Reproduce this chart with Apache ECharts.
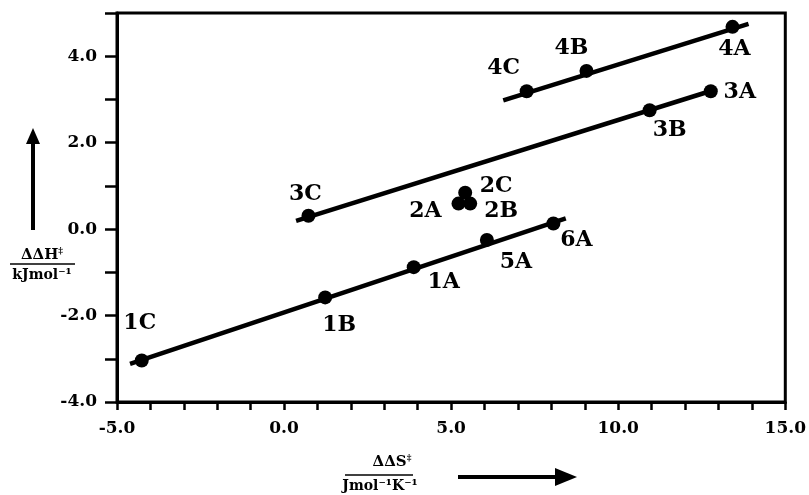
<!DOCTYPE html>
<html>
<head>
<meta charset="utf-8">
<script src="https://cdn.jsdelivr.net/npm/echarts@6/dist/echarts.min.js"></script>
<style>html,body{margin:0;padding:0;background:#fff;}#c{width:809px;height:495px;}</style>
</head>
<body>
<div id="c"></div>
<script>
// Data points: name, ΔΔS (x), ΔΔH (y)
const pointNames = ['1C','1B','1A','5A','6A','2A','2B','2C','3C','3B','3A','4C','4B','4A'];
const pointX     = [-4.26, 1.23, 3.88, 6.07, 8.06, 5.22, 5.57, 5.42, 0.73, 10.94, 12.77, 7.26, 9.05, 13.42];
const pointY     = [-3.04, -1.58, -0.88, -0.25, 0.13, 0.59, 0.59, 0.84, 0.31, 2.75, 3.19, 3.19, 3.66, 4.68];

// Fitted lines (endpoints)
const line1X = [-4.61, 8.43];  const line1Y = [-3.12, 0.25];
const line3X = [0.36, 12.91];  const line3Y = [0.19, 3.23];
const line4X = [6.56, 13.9];   const line4Y = [2.98, 4.75];

// Axis tick labels
const xTickLabels = ['-5.0','0.0','5.0','10.0','15.0'];
const yTickLabels = ['-4.0','-2.0','0.0','2.0','4.0'];

// label placement (style)
const labelOffsets = {
  '1C':[-2,-37],'1B':[14,28],'1A':[30,15],'5A':[29,22],'6A':[23,17],
  '2A':[-33,8],'2B':[31,8],'2C':[31,-7],'3C':[-3,-21],'3B':[20,20],
  '3A':[29,1],'4C':[-23,-23],'4B':[-15,-23],'4A':[2,22]
};

const FONT = 'DejaVu Serif';
const pts = pointNames.map((n,i)=>({
  name:n, value:[pointX[i], pointY[i]],
  label:{offset: labelOffsets[n]}
}));
const mk = (xs,ys)=>xs.map((x,i)=>[x,ys[i]]);

const chart = echarts.init(document.getElementById('c'), null, {renderer:'canvas'});
chart.setOption({
  animation:false,
  backgroundColor:'#fff',
  grid:{left:117,right:21,top:13,bottom:93,show:true,borderColor:'#000',borderWidth:3,backgroundColor:'transparent'},
  xAxis:{
    type:'value', min:-5, max:15, interval:1,
    axisLine:{show:true,onZero:false,lineStyle:{color:'#000',width:3}},
    axisTick:{show:true,length:8,lineStyle:{color:'#000',width:2.5}},
    splitLine:{show:false},
    axisLabel:{
      margin:18, color:'#000', fontFamily:FONT, fontWeight:'bold', fontSize:17,
      formatter:v=>{const i=xTickLabels.indexOf(v.toFixed(1)); return (Math.round(v)%5===0 && i>=0)?xTickLabels[i]:'';}
    }
  },
  yAxis:{
    type:'value', min:-4, max:5, interval:1,
    axisLine:{show:true,onZero:false,lineStyle:{color:'#000',width:3}},
    axisTick:{show:true,length:12,lineStyle:{color:'#000',width:2.5}},
    splitLine:{show:false},
    axisLabel:{
      margin:20, color:'#000', fontFamily:FONT, fontWeight:'bold', fontSize:17,
      formatter:v=>{const i=yTickLabels.indexOf(v.toFixed(1)); return (Math.round(v)%2===0 && i>=0)?yTickLabels[i]:'';}
    }
  },
  series:[
    {type:'line',data:mk(line1X,line1Y),symbol:'none',lineStyle:{color:'#000',width:4.5},silent:true},
    {type:'line',data:mk(line3X,line3Y),symbol:'none',lineStyle:{color:'#000',width:4.5},silent:true},
    {type:'line',data:mk(line4X,line4Y),symbol:'none',lineStyle:{color:'#000',width:4.5},silent:true},
    {type:'scatter',data:pts,symbol:'circle',symbolSize:14,itemStyle:{color:'#000',opacity:1},
     label:{show:true,position:'inside',formatter:p=>p.name,color:'#000',fontFamily:FONT,fontWeight:'bold',fontSize:22}}
  ],
  graphic:[
    // y title
    {type:'text',x:42,y:255,style:{text:'{b|ΔΔH}{s|‡}',align:'center',verticalAlign:'middle',
      rich:{b:{fontFamily:FONT,fontWeight:'bold',fontSize:15,fill:'#000'},s:{fontFamily:FONT,fontWeight:'bold',fontSize:9,fill:'#000',verticalAlign:'top'}}}},
    {type:'line',shape:{x1:10,y1:264,x2:75,y2:264},style:{stroke:'#000',lineWidth:1.5}},
    {type:'text',x:42,y:275,style:{text:'kJmol⁻¹',align:'center',verticalAlign:'middle',fontFamily:FONT,fontWeight:'bold',fontSize:14,fill:'#000'}},
    {type:'line',shape:{x1:33,y1:230,x2:33,y2:140},style:{stroke:'#000',lineWidth:4}},
    {type:'polygon',shape:{points:[[26,144],[33,128],[40,144]]},style:{fill:'#000'}},
    // x title
    {type:'text',x:392,y:462,style:{text:'{b|ΔΔS}{s|‡}',align:'center',verticalAlign:'middle',
      rich:{b:{fontFamily:FONT,fontWeight:'bold',fontSize:15,fill:'#000'},s:{fontFamily:FONT,fontWeight:'bold',fontSize:9,fill:'#000',verticalAlign:'top'}}}},
    {type:'line',shape:{x1:345,y1:475,x2:413,y2:475},style:{stroke:'#000',lineWidth:1.5}},
    {type:'text',x:380,y:486,style:{text:'Jmol⁻¹K⁻¹',align:'center',verticalAlign:'middle',fontFamily:FONT,fontWeight:'bold',fontSize:14,fill:'#000'}},
    {type:'line',shape:{x1:458,y1:477,x2:560,y2:477},style:{stroke:'#000',lineWidth:4}},
    {type:'polygon',shape:{points:[[555,468],[577,477],[555,486]]},style:{fill:'#000'}}
  ]
});
</script>
</body>
</html>
